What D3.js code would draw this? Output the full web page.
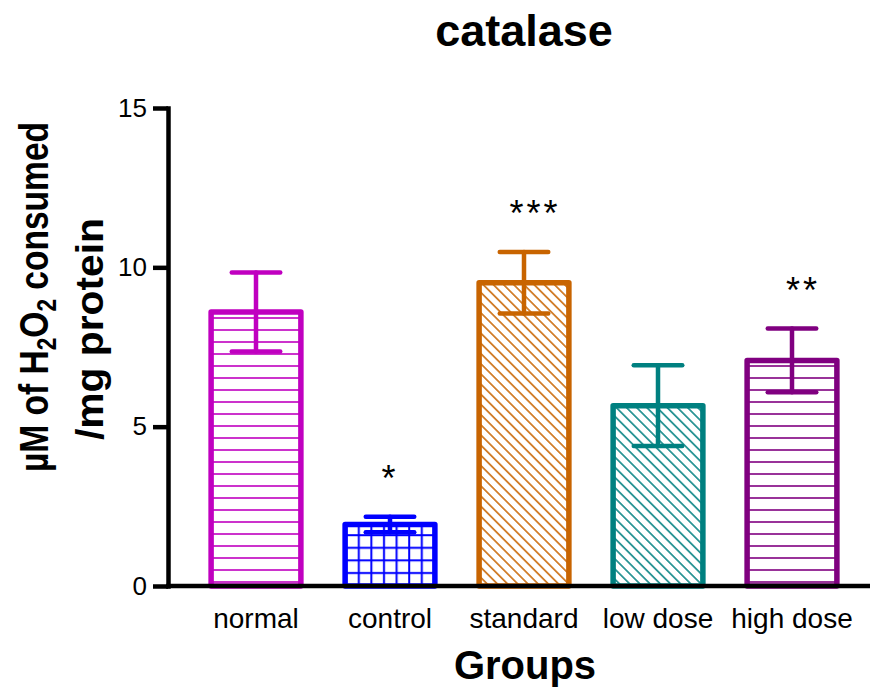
<!DOCTYPE html>
<html>
<head>
<meta charset="utf-8">
<script src="https://cdn.jsdelivr.net/npm/d3@7"></script>
<style>
  body { margin: 0; background: #fff; }
  svg { display: block; font-family: "Liberation Sans", Arial, Helvetica, sans-serif; }
</style>
</head>
<body>
<div id="chart"></div>
<script>
// data
const groups = ['normal', 'control', 'standard', 'low dose', 'high dose'];
const means = [8.6, 1.93, 9.52, 5.66, 7.08];
const sems = [1.24, 0.245, 0.965, 1.265, 1.0];
const stars = ['', '*', '***', '', '**'];
const barColors = ['#c000c0', '#0000ff', '#c86400', '#008080', '#800080'];
const fills = ['hlines', 'grid', 'diag', 'diag', 'hlines'];
const yTicks = [0, 5, 10, 15];

const width = 870, height = 690;
const axisLeftX = 168, axisRightX = 870;

const svg = d3.select('#chart').append('svg')
  .attr('width', width)
  .attr('height', height);

const x = d3.scaleBand()
  .domain(groups)
  .range([189, 859])
  .paddingInner(0.33)
  .paddingOuter(0.165);

const y = d3.scaleLinear()
  .domain([0, 15])
  .range([586, 108]);

// hatch patterns, one per bar
const defs = svg.append('defs');
groups.forEach((g, i) => {
  const c = barColors[i];
  const kind = fills[i];
  let p;
  if (kind === 'hlines') {
    p = defs.append('pattern').attr('id', 'pat' + i)
      .attr('patternUnits', 'userSpaceOnUse').attr('width', 12).attr('height', 12);
    p.append('rect').attr('width', 12).attr('height', 12).attr('fill', '#fff');
    p.append('line').attr('x1', 0).attr('x2', 12).attr('y1', 6).attr('y2', 6)
      .attr('stroke', c).attr('stroke-width', 1.6);
  } else if (kind === 'grid') {
    p = defs.append('pattern').attr('id', 'pat' + i)
      .attr('patternUnits', 'userSpaceOnUse').attr('width', 12.6).attr('height', 12.6);
    p.append('rect').attr('width', 12.6).attr('height', 12.6).attr('fill', '#fff');
    p.append('line').attr('x1', 0).attr('x2', 12.6).attr('y1', 6).attr('y2', 6)
      .attr('stroke', c).attr('stroke-width', 2);
    p.append('line').attr('y1', 0).attr('y2', 12.6).attr('x1', 6).attr('x2', 6)
      .attr('stroke', c).attr('stroke-width', 2);
  } else {
    p = defs.append('pattern').attr('id', 'pat' + i)
      .attr('patternUnits', 'userSpaceOnUse').attr('width', 7.2).attr('height', 7.2)
      .attr('patternTransform', 'rotate(45)');
    p.append('rect').attr('width', 7.2).attr('height', 7.2).attr('fill', '#fff');
    p.append('line').attr('x1', 0).attr('x2', 7.2).attr('y1', 3.6).attr('y2', 3.6)
      .attr('stroke', c).attr('stroke-width', 1.5);
  }
});

// bars
svg.selectAll('.bar')
  .data(groups)
  .enter().append('rect')
  .attr('class', 'bar')
  .attr('x', d => x(d))
  .attr('y', (d, i) => y(means[i]))
  .attr('width', x.bandwidth())
  .attr('height', (d, i) => y(0) - y(means[i]))
  .attr('fill', (d, i) => 'url(#pat' + i + ')')
  .attr('stroke', (d, i) => barColors[i])
  .attr('stroke-width', 5.5)
  .attr('stroke-linejoin', 'round');

// error bars (mean +/- sem)
const capHalf = x.bandwidth() * 0.27;
groups.forEach((g, i) => {
  const cx = x(g) + x.bandwidth() / 2;
  const top = y(means[i] + sems[i]);
  const bot = y(means[i] - sems[i]);
  const eg = svg.append('g')
    .attr('stroke', barColors[i])
    .attr('stroke-width', 4.5)
    .attr('stroke-linecap', 'round');
  eg.append('line').attr('x1', cx).attr('x2', cx).attr('y1', top).attr('y2', bot);
  eg.append('line').attr('x1', cx - capHalf).attr('x2', cx + capHalf).attr('y1', top).attr('y2', top);
  eg.append('line').attr('x1', cx - capHalf).attr('x2', cx + capHalf).attr('y1', bot).attr('y2', bot);
});

// significance stars
svg.selectAll('.star')
  .data(groups)
  .enter().append('text')
  .attr('class', 'star')
  .attr('x', d => x(d) + x.bandwidth() / 2)
  .attr('dx', (d, i) => stars[i].length > 1 ? 11 : 0)
  .attr('y', (d, i) => y(means[i] + sems[i]) - 26)
  .attr('text-anchor', 'middle')
  .attr('font-size', '36px')
  .attr('letter-spacing', '3px')
  .text((d, i) => stars[i]);

// y axis
const yAxis = svg.append('g')
  .attr('transform', `translate(${axisLeftX},0)`)
  .call(d3.axisLeft(y).tickValues(yTicks).tickSize(15).tickPadding(6).tickSizeOuter(0));
yAxis.select('.domain').attr('stroke-width', 4.5).attr('stroke-linecap', 'square');
yAxis.selectAll('.tick line').attr('stroke-width', 4.5);
yAxis.selectAll('.tick text')
  .attr('font-size', '26px')
  .attr('font-family', '"Liberation Sans", Arial, sans-serif')
  .attr('fill', '#000');

// x axis: baseline plus category labels
svg.append('line')
  .attr('x1', axisLeftX - 2).attr('x2', axisRightX)
  .attr('y1', y(0)).attr('y2', y(0))
  .attr('stroke', '#000').attr('stroke-width', 4.5);

const xAxis = svg.append('g')
  .attr('transform', `translate(0,${y(0)})`)
  .call(d3.axisBottom(x).tickSize(0).tickPadding(22));
xAxis.select('.domain').remove();
xAxis.selectAll('.tick text')
  .attr('font-size', '28px')
  .attr('font-family', '"Liberation Sans", Arial, sans-serif')
  .attr('fill', '#000');

// title
svg.append('text')
  .attr('x', 524)
  .attr('y', 46)
  .attr('text-anchor', 'middle')
  .attr('font-size', '45px')
  .attr('font-weight', 'bold')
  .text('catalase');

// x title
svg.append('text')
  .attr('x', 525)
  .attr('y', 679)
  .attr('text-anchor', 'middle')
  .attr('font-size', '40px')
  .attr('font-weight', 'bold')
  .text('Groups');

// y title, two lines
const yl1 = svg.append('text')
  .attr('transform', 'translate(48,297) rotate(-90)')
  .attr('text-anchor', 'middle')
  .attr('font-size', '40px')
  .attr('font-weight', 'bold')
  .attr('textLength', 350)
  .attr('lengthAdjust', 'spacingAndGlyphs');
yl1.append('tspan').text('µM of H');
yl1.append('tspan').attr('font-size', '27px').attr('dy', 8).text('2');
yl1.append('tspan').attr('dy', -8).text('O');
yl1.append('tspan').attr('font-size', '27px').attr('dy', 8).text('2');
yl1.append('tspan').attr('dy', -8).text(' consumed');

svg.append('text')
  .attr('transform', 'translate(103,329) rotate(-90)')
  .attr('text-anchor', 'middle')
  .attr('font-size', '39px')
  .attr('font-weight', 'bold')
  .attr('textLength', 222)
  .attr('lengthAdjust', 'spacingAndGlyphs')
  .text('/mg protein');
</script>
</body>
</html>
